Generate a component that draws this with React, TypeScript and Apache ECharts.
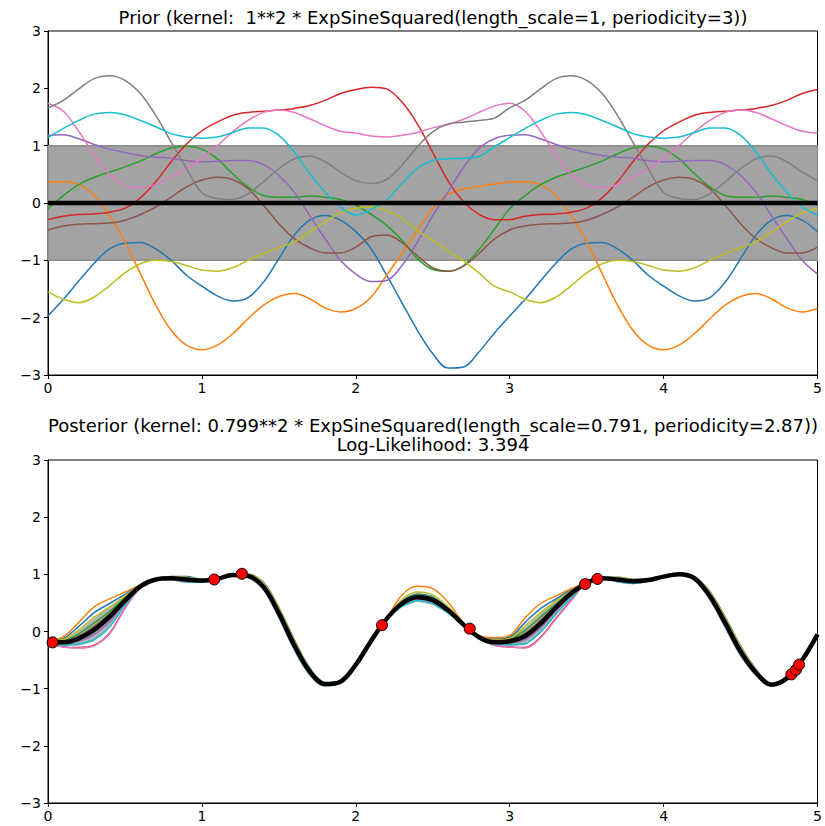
import React, { useEffect, useRef } from "react";
import * as echarts from "echarts";

// shared x grid (0 .. 5, step 0.1)
const X = [
  0, 0.1, 0.2, 0.3, 0.4, 0.5, 0.6, 0.7, 0.8, 0.9,
  1, 1.1, 1.2, 1.3, 1.4, 1.5, 1.6, 1.7, 1.8, 1.9,
  2, 2.1, 2.2, 2.3, 2.4, 2.5, 2.6, 2.7, 2.8, 2.9,
  3, 3.1, 3.2, 3.3, 3.4, 3.5, 3.6, 3.7, 3.8, 3.9,
  4, 4.1, 4.2, 4.3, 4.4, 4.5, 4.6, 4.7, 4.8, 4.9, 5,
];

const X_TICKS = [0, 1, 2, 3, 4, 5];
const Y_TICKS = [-3, -2, -1, 0, 1, 2, 3];

// ---------- prior ----------
const PRIOR_BAND_X = [0, 5];
const PRIOR_MEAN = [0, 0];
const PRIOR_UPPER = [1, 1];
const PRIOR_LOWER = [-1, -1];

const priorBlue = [-1.97,-1.68,-1.36,-1.05,-0.80,-0.70,-0.69,-0.80,-1.00,-1.26,-1.45,-1.62,-1.71,-1.65,-1.38,-0.97,-0.56,-0.30,-0.22,-0.30,-0.50,-0.80,-1.26,-1.74,-2.22,-2.63,-2.88,-2.86,-2.60,-2.27,
  -1.97,-1.68,-1.36,-1.05,-0.80,-0.70,-0.69,-0.80,-1.00,-1.26,-1.45,-1.62,-1.71,-1.65,-1.38,-0.97,-0.56,-0.30,-0.22,-0.30,-0.50];
const priorOrange = [0.36,0.37,0.32,0.13,-0.22,-0.68,-1.23,-1.78,-2.22,-2.48,-2.56,-2.48,-2.28,-2.02,-1.78,-1.63,-1.58,-1.67,-1.83,-1.90,-1.84,-1.64,-1.26,-0.88,-0.48,-0.09,0.15,0.24,0.29,0.33,
  0.36,0.37,0.32,0.13,-0.22,-0.68,-1.23,-1.78,-2.22,-2.48,-2.56,-2.48,-2.28,-2.02,-1.78,-1.63,-1.58,-1.67,-1.83,-1.90,-1.84];
const priorGreen = [-0.10,0.13,0.32,0.45,0.54,0.63,0.73,0.86,0.96,0.99,0.94,0.77,0.51,0.28,0.13,0.10,0.10,0.12,0.10,0.06,-0.04,-0.20,-0.39,-0.65,-0.97,-1.16,-1.19,-1.09,-0.81,-0.46,
  -0.10,0.13,0.32,0.45,0.54,0.63,0.73,0.86,0.96,0.99,0.94,0.77,0.51,0.28,0.13,0.10,0.10,0.12,0.10,0.06,-0.04];
const priorRed = [-0.29,-0.23,-0.20,-0.19,-0.16,-0.09,0.09,0.37,0.72,1.03,1.26,1.41,1.53,1.58,1.60,1.62,1.65,1.70,1.79,1.91,1.98,2.02,1.99,1.76,1.38,0.88,0.38,0.02,-0.20,-0.29,
  -0.29,-0.23,-0.20,-0.19,-0.16,-0.09,0.09,0.37,0.72,1.03,1.26,1.41,1.53,1.58,1.60,1.62,1.65,1.70,1.79,1.91,1.98];
const priorPurple = [1.18,1.19,1.12,1.02,0.94,0.88,0.83,0.80,0.78,0.74,0.72,0.73,0.74,0.74,0.67,0.48,0.19,-0.22,-0.62,-1.00,-1.24,-1.37,-1.35,-1.09,-0.68,-0.22,0.20,0.62,0.95,1.12,
  1.18,1.19,1.12,1.02,0.94,0.88,0.83,0.80,0.78,0.74,0.72,0.73,0.74,0.74,0.67,0.48,0.19,-0.22,-0.62,-1.00,-1.24];
const priorBrown = [-0.47,-0.40,-0.37,-0.36,-0.35,-0.30,-0.20,-0.07,0.10,0.28,0.40,0.45,0.41,0.25,-0.04,-0.36,-0.62,-0.78,-0.87,-0.87,-0.77,-0.59,-0.56,-0.69,-0.92,-1.13,-1.19,-1.10,-0.88,-0.63,
  -0.47,-0.40,-0.37,-0.36,-0.35,-0.30,-0.20,-0.07,0.10,0.28,0.40,0.45,0.41,0.25,-0.04,-0.36,-0.62,-0.78,-0.87,-0.87,-0.77];
const priorPink = [1.74,1.60,1.25,0.84,0.50,0.31,0.27,0.32,0.45,0.60,0.78,1.00,1.24,1.44,1.58,1.62,1.58,1.47,1.35,1.25,1.22,1.17,1.15,1.18,1.23,1.31,1.37,1.46,1.58,1.69,
  1.74,1.60,1.25,0.84,0.50,0.31,0.27,0.32,0.45,0.60,0.78,1.00,1.24,1.44,1.58,1.62,1.58,1.47,1.35,1.25,1.22];
const priorGray = [1.66,1.79,1.99,2.17,2.22,2.14,1.91,1.53,1.06,0.60,0.18,0.08,0.06,0.16,0.37,0.60,0.77,0.82,0.72,0.54,0.39,0.34,0.41,0.66,0.98,1.24,1.38,1.41,1.44,1.48,
  1.66,1.79,1.99,2.17,2.22,2.14,1.91,1.53,1.06,0.60,0.18,0.08,0.06,0.16,0.37,0.60,0.77,0.82,0.72,0.54,0.39];
const priorOlive = [-1.55,-1.68,-1.74,-1.64,-1.44,-1.22,-1.06,-1.00,-1.02,-1.09,-1.17,-1.19,-1.13,-1.00,-0.88,-0.78,-0.68,-0.51,-0.33,-0.17,-0.09,-0.07,-0.13,-0.27,-0.48,-0.65,-0.84,-1.01,-1.22,-1.45,
  -1.55,-1.68,-1.74,-1.64,-1.44,-1.22,-1.06,-1.00,-1.02,-1.09,-1.17,-1.19,-1.13,-1.00,-0.88,-0.78,-0.68,-0.51,-0.33,-0.17,-0.09];
const priorCyan = [1.14,1.30,1.44,1.55,1.58,1.54,1.44,1.33,1.21,1.15,1.13,1.15,1.23,1.31,1.31,1.18,0.89,0.51,0.19,-0.07,-0.21,-0.11,0.05,0.34,0.61,0.74,0.77,0.78,0.81,0.98,
  1.14,1.30,1.44,1.55,1.58,1.54,1.44,1.33,1.21,1.15,1.13,1.15,1.23,1.31,1.31,1.18,0.89,0.51,0.19,-0.07,-0.21];

// ---------- posterior ----------
const postMean = [-0.18,-0.19,-0.12,0.03,0.26,0.54,0.79,0.91,0.93,0.91,0.89,0.92,0.99,0.97,0.78,0.32,-0.24,-0.70,-0.92,-0.88,-0.58,-0.16,0.22,0.49,0.60,0.55,0.37,0.12,-0.10,-0.19,-0.17,-0.08,0.14,0.42,0.67,0.85,0.93,0.91,0.88,0.90,0.96,1.00,0.93,0.62,0.15,-0.35,-0.72,-0.93,-0.82,-0.50,-0.05];
const postStd = [0.01,0.06,0.13,0.20,0.18,0.09,0.02,0.01,0.02,0.03,0.02,0.01,0.01,0.02,0.04,0.06,0.06,0.04,0.02,0.01,0.01,0.01,0.01,0.06,0.08,0.08,0.06,0.02,0.02,0.05,0.09,0.16,0.18,0.14,0.07,0.01,0.01,0.03,0.03,0.02,0.01,0.01,0.02,0.05,0.06,0.06,0.04,0.01,0.01,0.01,0.01];

const postBlue = [-0.17,-0.12,0.09,0.33,0.49,0.65,0.81,0.91,0.96,0.96,0.91,0.92,0.99,1.00,0.86,0.42,-0.14,-0.63,-0.90,-0.87,-0.56,-0.15,0.22,0.53,0.65,0.60,0.41,0.13,-0.08,-0.13,-0.10,0.16,0.40,0.57,0.73,0.85,0.93,0.95,0.91,0.91,0.96,1.00,0.96,0.70,0.25,-0.25,-0.66,-0.91,-0.82,-0.50,-0.04];
const postOrange = [-0.17,-0.09,0.16,0.43,0.57,0.69,0.81,0.91,0.95,0.94,0.90,0.92,0.99,0.98,0.82,0.37,-0.19,-0.67,-0.91,-0.88,-0.57,-0.16,0.22,0.64,0.79,0.75,0.51,0.15,-0.07,-0.11,-0.07,0.24,0.49,0.62,0.75,0.85,0.93,0.93,0.90,0.90,0.96,1.00,0.94,0.66,0.20,-0.30,-0.69,-0.92,-0.82,-0.50,-0.04];
const postGreen = [-0.18,-0.16,-0.04,0.15,0.35,0.59,0.80,0.91,0.94,0.93,0.90,0.92,0.99,0.98,0.80,0.35,-0.21,-0.68,-0.91,-0.88,-0.57,-0.16,0.22,0.52,0.64,0.59,0.40,0.13,-0.09,-0.17,-0.14,0.02,0.25,0.48,0.69,0.85,0.93,0.92,0.89,0.90,0.96,1.00,0.94,0.64,0.18,-0.32,-0.70,-0.92,-0.82,-0.50,-0.05];
const postRed = [-0.19,-0.27,-0.28,-0.24,-0.03,0.41,0.76,0.91,0.92,0.89,0.88,0.92,0.99,0.96,0.76,0.28,-0.28,-0.73,-0.94,-0.89,-0.59,-0.17,0.22,0.47,0.58,0.53,0.35,0.12,-0.12,-0.24,-0.27,-0.28,-0.10,0.23,0.55,0.85,0.93,0.89,0.86,0.89,0.96,1.00,0.92,0.59,0.11,-0.39,-0.74,-0.94,-0.82,-0.50,-0.06];
const postPurple = [-0.18,-0.21,-0.17,-0.05,0.17,0.50,0.78,0.91,0.92,0.90,0.88,0.92,0.99,0.96,0.77,0.30,-0.26,-0.72,-0.93,-0.89,-0.59,-0.16,0.22,0.48,0.58,0.53,0.36,0.12,-0.11,-0.21,-0.20,-0.14,0.07,0.36,0.63,0.85,0.93,0.90,0.87,0.89,0.96,1.00,0.92,0.60,0.13,-0.37,-0.73,-0.93,-0.82,-0.50,-0.05];
const postBrown = [-0.18,-0.18,-0.08,0.09,0.31,0.56,0.79,0.91,0.93,0.92,0.89,0.92,0.99,0.97,0.79,0.33,-0.23,-0.69,-0.92,-0.88,-0.58,-0.16,0.22,0.51,0.62,0.57,0.38,0.12,-0.10,-0.18,-0.16,-0.03,0.19,0.45,0.68,0.85,0.93,0.91,0.88,0.90,0.96,1.00,0.93,0.63,0.16,-0.34,-0.71,-0.93,-0.82,-0.50,-0.05];
const postPink = [-0.19,-0.27,-0.29,-0.25,-0.04,0.40,0.76,0.91,0.91,0.86,0.86,0.92,0.99,0.95,0.73,0.24,-0.32,-0.75,-0.95,-0.90,-0.60,-0.17,0.22,0.46,0.56,0.51,0.34,0.11,-0.12,-0.24,-0.27,-0.29,-0.11,0.22,0.54,0.85,0.93,0.87,0.84,0.88,0.96,1.00,0.91,0.56,0.07,-0.42,-0.76,-0.94,-0.82,-0.50,-0.06];
const postGray = [-0.18,-0.20,-0.15,-0.01,0.22,0.52,0.79,0.91,0.93,0.91,0.89,0.92,0.99,0.97,0.78,0.31,-0.25,-0.71,-0.92,-0.88,-0.58,-0.16,0.22,0.49,0.59,0.54,0.37,0.12,-0.10,-0.20,-0.19,-0.11,0.10,0.39,0.65,0.85,0.93,0.91,0.88,0.90,0.96,1.00,0.93,0.61,0.14,-0.36,-0.72,-0.93,-0.82,-0.50,-0.05];
const postOlive = [-0.17,-0.14,0.03,0.25,0.43,0.62,0.80,0.91,0.96,0.95,0.91,0.92,0.99,1.00,0.85,0.41,-0.15,-0.64,-0.90,-0.87,-0.56,-0.15,0.22,0.56,0.69,0.64,0.43,0.13,-0.08,-0.15,-0.12,0.10,0.33,0.53,0.71,0.85,0.93,0.95,0.91,0.91,0.96,1.00,0.96,0.69,0.24,-0.26,-0.67,-0.91,-0.82,-0.50,-0.04];
const postCyan = [-0.19,-0.24,-0.22,-0.14,0.08,0.46,0.77,0.91,0.91,0.87,0.86,0.92,0.99,0.95,0.74,0.25,-0.31,-0.75,-0.95,-0.90,-0.60,-0.17,0.22,0.44,0.54,0.49,0.32,0.11,-0.11,-0.22,-0.23,-0.21,-0.01,0.30,0.59,0.85,0.93,0.87,0.84,0.88,0.96,1.00,0.91,0.57,0.08,-0.41,-0.76,-0.94,-0.82,-0.50,-0.06];

const TRAIN_X = [0.03, 1.08, 1.26, 2.17, 2.74, 3.49, 3.57, 4.83, 4.86, 4.88];
const TRAIN_Y = [-0.19, 0.91, 1.01, 0.11, 0.05, 0.83, 0.92, -0.75, -0.67, -0.58];

const PRIOR_TITLE = "Prior (kernel:  1**2 * ExpSineSquared(length_scale=1, periodicity=3))";
const POST_TITLE_1 = "Posterior (kernel: 0.799**2 * ExpSineSquared(length_scale=0.791, periodicity=2.87))";
const POST_TITLE_2 = "Log-Likelihood: 3.394";

const COLORS = ["#1f77b4", "#ff7f0e", "#2ca02c", "#d62728", "#9467bd", "#8c564b", "#e377c2", "#7f7f7f", "#bcbd22", "#17becf"];
const PRIOR_SAMPLES = [priorBlue, priorOrange, priorGreen, priorRed, priorPurple, priorBrown, priorPink, priorGray, priorOlive, priorCyan];
const POST_SAMPLES = [postBlue, postOrange, postGreen, postRed, postPurple, postBrown, postPink, postGray, postOlive, postCyan];

const FONT = "DejaVu Sans";

function xAxis(gi: number) {
  return {
    type: "value", gridIndex: gi, min: X_TICKS[0], max: X_TICKS[X_TICKS.length - 1], interval: 1,
    axisLine: { show: true, onZero: false, lineStyle: { color: "#000", width: 1 } },
    axisTick: { show: true, length: 4, lineStyle: { color: "#000", width: 1 } },
    axisLabel: { color: "#000", fontSize: 14, margin: 6, fontFamily: FONT },
    splitLine: { show: false },
  };
}
function yAxis(gi: number) {
  return {
    type: "value", gridIndex: gi, min: Y_TICKS[0], max: Y_TICKS[Y_TICKS.length - 1], interval: 1,
    axisLine: { show: true, onZero: false, lineStyle: { color: "#000", width: 1 } },
    axisTick: { show: true, length: 4, lineStyle: { color: "#000", width: 1 } },
    axisLabel: { color: "#000", fontSize: 14, margin: 7, fontFamily: FONT, formatter: (v: number) => String(v).replace("-", "\u2212") },
    splitLine: { show: false },
  };
}

function band(xs: number[], lower: number[], upper: number[], gi: number, fill: string, stroke: string, lw: number) {
  return {
    type: "custom", xAxisIndex: gi, yAxisIndex: gi, z: 1, silent: true, clip: true,
    data: [[xs[0], lower[0]]],
    renderItem: (params: any, api: any) => {
      const top = xs.map((x, i) => api.coord([x, upper[i]]));
      const bot = xs.map((x, i) => api.coord([x, lower[i]])).reverse();
      return { type: "polygon", shape: { points: top.concat(bot) }, style: { fill, stroke, lineWidth: lw } };
    },
  };
}

function line(xs: number[], ys: number[], gi: number, color: string, width: number, z: number) {
  return {
    type: "line", xAxisIndex: gi, yAxisIndex: gi, z, silent: true,
    data: xs.map((x, i) => [x, ys[i]]),
    showSymbol: false, symbol: "none", smooth: 0.35,
    lineStyle: { color, width }, clip: true,
  };
}

export default function App() {
  const ref = useRef<HTMLDivElement>(null);
  useEffect(() => {
    const chart = echarts.init(ref.current!, null, { renderer: "svg" });
    const series: any[] = [];
    series.push(band(PRIOR_BAND_X, PRIOR_LOWER, PRIOR_UPPER, 0, "#a3a3a3", "#8a8a8a", 1.5));
    PRIOR_SAMPLES.forEach((s, k) => series.push(line(X, s, 0, COLORS[k], 1.5, 2)));
    series.push(line(PRIOR_BAND_X, PRIOR_MEAN, 0, "#000", 4.5, 3));

    const lower = postMean.map((m, i) => +(m - postStd[i]).toFixed(3));
    const upper = postMean.map((m, i) => +(m + postStd[i]).toFixed(3));
    series.push(band(X, lower, upper, 1, "rgba(0,0,0,0.3)", "none", 0));
    POST_SAMPLES.forEach((s, k) => series.push(line(X, s, 1, COLORS[k], 1.5, 2)));
    series.push(line(X, postMean, 1, "#000", 4.5, 3));
    series.push({
      type: "scatter", xAxisIndex: 1, yAxisIndex: 1, z: 5, silent: true,
      data: TRAIN_X.map((x, i) => [x, TRAIN_Y[i]]),
      symbol: "circle", symbolSize: 11,
      itemStyle: { color: "#ff0000", borderColor: "#000", borderWidth: 1, opacity: 1 },
    });

    chart.setOption({
      animation: false,
      backgroundColor: "#fff",
      grid: [
        { left: 48, top: 31, width: 770, height: 344, show: true, borderColor: "#000", borderWidth: 1, backgroundColor: "transparent" },
        { left: 48, top: 460, width: 770, height: 343, show: true, borderColor: "#000", borderWidth: 1, backgroundColor: "transparent" },
      ],
      xAxis: [xAxis(0), xAxis(1)],
      yAxis: [yAxis(0), yAxis(1)],
      graphic: [
        { type: "text", x: 433, y: 17, style: { text: PRIOR_TITLE, textAlign: "center", textVerticalAlign: "middle", font: `18px "${FONT}"`, fill: "#000" } },
        { type: "text", x: 433, y: 425, style: { text: POST_TITLE_1, textAlign: "center", textVerticalAlign: "middle", font: `18px "${FONT}"`, fill: "#000" } },
        { type: "text", x: 433, y: 444, style: { text: POST_TITLE_2, textAlign: "center", textVerticalAlign: "middle", font: `18px "${FONT}"`, fill: "#000" } },
      ],
      series,
    });
    return () => chart.dispose();
  }, []);
  return <div ref={ref} style={{ position: "fixed", left: 0, top: 0, width: 825, height: 826, background: "#fff" }} />;
}
